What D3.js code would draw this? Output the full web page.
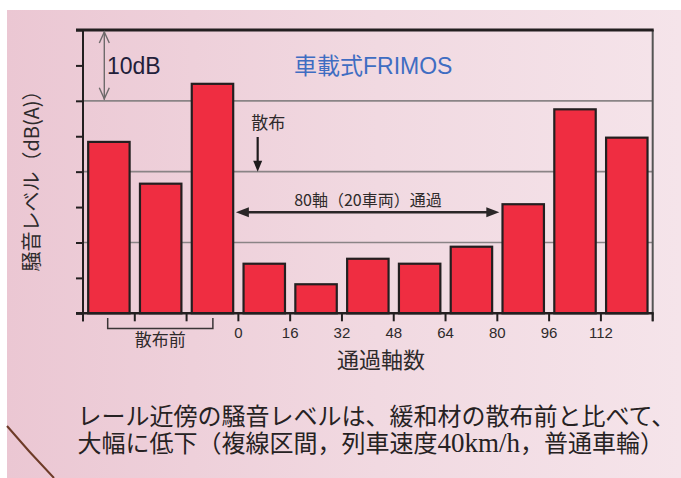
<!DOCTYPE html>
<html>
<head>
<meta charset="utf-8">
<script src="https://cdn.jsdelivr.net/npm/d3@7"></script>
<style>
  html, body { margin: 0; padding: 0; background: #ffffff; }
  svg { display: block; }
</style>
</head>
<body>
<script>
// ---- data ----
const categories = ["散布前1", "散布前2", "散布前3", "0-16", "16-32", "32-48", "48-64", "64-80", "80-96", "96-112", "112-128"];
const values = [24.2, 18.3, 32.4, 7.0, 4.1, 7.7, 7.0, 9.4, 15.4, 28.8, 24.8];   // dB above axis bottom
const xTickLabels = ["0", "16", "32", "48", "64", "80", "96", "112"];
const xTickStartIndex = 3;           // first labelled boundary
const yDomain = [0, 40];             // dB span of plot (unlabelled)
const gridValues = [10, 20, 30];

(function () {
const W = 681, H = 478;
const svg = d3.select("body").append("svg").attr("width", W).attr("height", H);

// background
const defs = svg.append("defs");
const grad = defs.append("linearGradient").attr("id", "bg").attr("x1", "0").attr("x2", "1").attr("y1", "0").attr("y2", "0");
grad.append("stop").attr("offset", "0").attr("stop-color", "#ebc7d3");
grad.append("stop").attr("offset", "0.55").attr("stop-color", "#f1d9e1");
grad.append("stop").attr("offset", "1").attr("stop-color", "#f5e4ea");
svg.append("rect").attr("x", 7).attr("y", 10).attr("width", W - 7).attr("height", H - 10).attr("fill", "url(#bg)");
svg.append("path").attr("d", "M7,426 Q29,452 54,478").attr("fill", "none").attr("stroke", "#6e3b28").attr("stroke-width", 2);

// scales
const pL = 83, pR = 652.7, pT = 30, pB = 313.3;
const x = d3.scaleBand().domain(categories).range([pL, pR]).paddingInner(0.2).paddingOuter(0.1);
const y = d3.scaleLinear().domain(yDomain).range([pB, pT]);
const step = x.step();
const boundary = i => pL + step * i;   // band boundaries

// gridlines
svg.append("g").selectAll("line").data(gridValues).join("line")
  .attr("x1", pL).attr("x2", pR).attr("y1", d => y(d)).attr("y2", d => y(d))
  .attr("stroke", "#8a8486").attr("stroke-width", 1.6);

// bars
svg.append("g").selectAll("rect").data(values).join("rect")
  .attr("x", (d, i) => x(categories[i]))
  .attr("y", d => y(d))
  .attr("width", x.bandwidth())
  .attr("height", d => y(0) - y(d))
  .attr("fill", "#ef2d41")
  .attr("stroke", "#231f20").attr("stroke-width", 2.2);

// y axis (ticks only)
const yAxis = svg.append("g").attr("transform", `translate(${pL},0)`)
  .call(d3.axisLeft(y).ticks(8).tickSize(7).tickFormat(""));
yAxis.select(".domain").remove();
yAxis.selectAll(".tick line").attr("stroke", "#231f20").attr("stroke-width", 2);
svg.append("line").attr("x1", pL).attr("x2", pL).attr("y1", pT).attr("y2", pB + 8)
  .attr("stroke", "#231f20").attr("stroke-width", 2);

// right border
svg.append("line").attr("x1", pR).attr("x2", pR).attr("y1", pT).attr("y2", pB + 8)
  .attr("stroke", "#555").attr("stroke-width", 2);
// top border
svg.append("line").attr("x1", pL - 7).attr("x2", pR + 1).attr("y1", y(yDomain[1])).attr("y2", y(yDomain[1]))
  .attr("stroke", "#231f20").attr("stroke-width", 3);
// bottom axis
svg.append("line").attr("x1", pL - 7).attr("x2", pR + 1).attr("y1", pB).attr("y2", pB)
  .attr("stroke", "#231f20").attr("stroke-width", 2.5);
svg.append("g").selectAll("line").data(d3.range(categories.length + 1)).join("line")
  .attr("x1", i => boundary(i)).attr("x2", i => boundary(i))
  .attr("y1", pB).attr("y2", pB + 8)
  .attr("stroke", "#231f20").attr("stroke-width", 2);

// x tick labels
svg.append("g").selectAll("text").data(xTickLabels).join("text")
  .attr("x", (d, i) => boundary(i + xTickStartIndex))
  .attr("y", 338)
  .attr("text-anchor", "middle")
  .attr("font-family", "'Liberation Sans', Arial, sans-serif")
  .attr("font-size", 15).attr("fill", "#2e2a2b")
  .text(d => d);

// 散布前 bracket
const bx1 = boundary(0) + 24.7, bx2 = boundary(2) + 26.3;
svg.append("path").attr("d", `M${bx1},318 V328.5 H${bx2} V318`).attr("fill", "none").attr("stroke", "#3a3536").attr("stroke-width", 1.5);
svg.append("text").attr("x", (bx1 + bx2) / 2).attr("y", 345.5).attr("text-anchor", "middle")
  .attr("font-family", "'Noto Sans CJK JP', sans-serif").attr("font-size", 17).attr("fill", "#2e2a2b").text("散布前");

// x axis title
svg.append("text").attr("x", 381).attr("y", 368).attr("text-anchor", "middle")
  .attr("font-family", "'Noto Sans CJK JP', sans-serif").attr("font-size", 22).attr("fill", "#2e2a2b").text("通過軸数");

// y axis title
svg.append("text").attr("transform", "translate(39,176) rotate(-90)").attr("text-anchor", "middle")
  .attr("font-family", "'Noto Sans CJK JP', sans-serif").attr("font-size", 20).attr("fill", "#2e2a2b").text("騒音レベル（dB(A)）");

// 10dB annotation
const ax = 104.3;
const g10 = svg.append("g").attr("stroke", "#6e6a6b").attr("stroke-width", 1.4).attr("fill", "none");
g10.append("line").attr("x1", ax).attr("x2", ax).attr("y1", y(40) + 1).attr("y2", y(30) - 1);
g10.append("path").attr("d", `M${ax - 5},${y(40) + 13} L${ax},${y(40) + 2} L${ax + 5},${y(40) + 13}`);
g10.append("path").attr("d", `M${ax - 5},${y(30) - 13} L${ax},${y(30) - 2} L${ax + 5},${y(30) - 13}`);
svg.append("text").attr("x", 107).attr("y", 73.5)
  .attr("font-family", "'Liberation Sans', Arial, sans-serif").attr("font-size", 23).attr("fill", "#22203a").text("10dB");

// series title
svg.append("text").attr("x", 294).attr("y", 73.5)
  .attr("font-family", "'Liberation Sans', 'Noto Sans CJK JP', sans-serif").attr("font-size", 23).attr("fill", "#3f6dc2").text("車載式FRIMOS");

// 散布 arrow
const sx = boundary(xTickStartIndex) + 19.3;
svg.append("text").attr("x", sx - 6.5).attr("y", 129)
  .attr("font-family", "'Noto Sans CJK JP', sans-serif").attr("font-size", 17).attr("fill", "#2e2a2b").text("散布");
svg.append("line").attr("x1", sx).attr("x2", sx).attr("y1", 137).attr("y2", y(20) - 8)
  .attr("stroke", "#1e1b1c").attr("stroke-width", 2.2);
svg.append("path").attr("d", `M${sx - 4.5},${y(20) - 11} L${sx + 4.5},${y(20) - 11} L${sx},${y(20)} Z`).attr("fill", "#1e1b1c");

// 80軸 double arrow
const hy = 212.3, hx1 = boundary(xTickStartIndex) - 2.5, hx2 = boundary(8) + 2;
svg.append("line").attr("x1", hx1 + 8).attr("x2", hx2 - 8).attr("y1", hy).attr("y2", hy)
  .attr("stroke", "#2a2627").attr("stroke-width", 2.6);
svg.append("path").attr("d", `M${hx1},${hy} L${hx1 + 13},${hy - 5} L${hx1 + 13},${hy + 5} Z`).attr("fill", "#2a2627");
svg.append("path").attr("d", `M${hx2},${hy} L${hx2 - 13},${hy - 5} L${hx2 - 13},${hy + 5} Z`).attr("fill", "#2a2627");
svg.append("text").attr("x", 368).attr("y", 205.5).attr("text-anchor", "middle")
  .attr("font-family", "'Noto Sans CJK JP', sans-serif").attr("font-size", 16).attr("fill", "#2e2a2b").text("80軸（20車両）通過");

// caption (one wrapped text block, two lines)
const cap = svg.append("text").attr("x", 77.5).attr("y", 425)
  .attr("font-family", "'Noto Sans CJK JP', sans-serif").attr("font-size", 24).attr("fill", "#262223");
cap.append("tspan").attr("x", 77.5).attr("y", 425).text("レール近傍の騒音レベルは、緩和材の散布前と比べて、");
cap.append("tspan").attr("x", 77.5).attr("y", 452).text("大幅に低下（複線区間，列車速度");
cap.append("tspan").attr("font-family", "'Liberation Serif', 'Times New Roman', serif").attr("font-size", 27).text("40km/h");
cap.append("tspan").text("，普通車輪）");
})();
</script>
</body>
</html>
